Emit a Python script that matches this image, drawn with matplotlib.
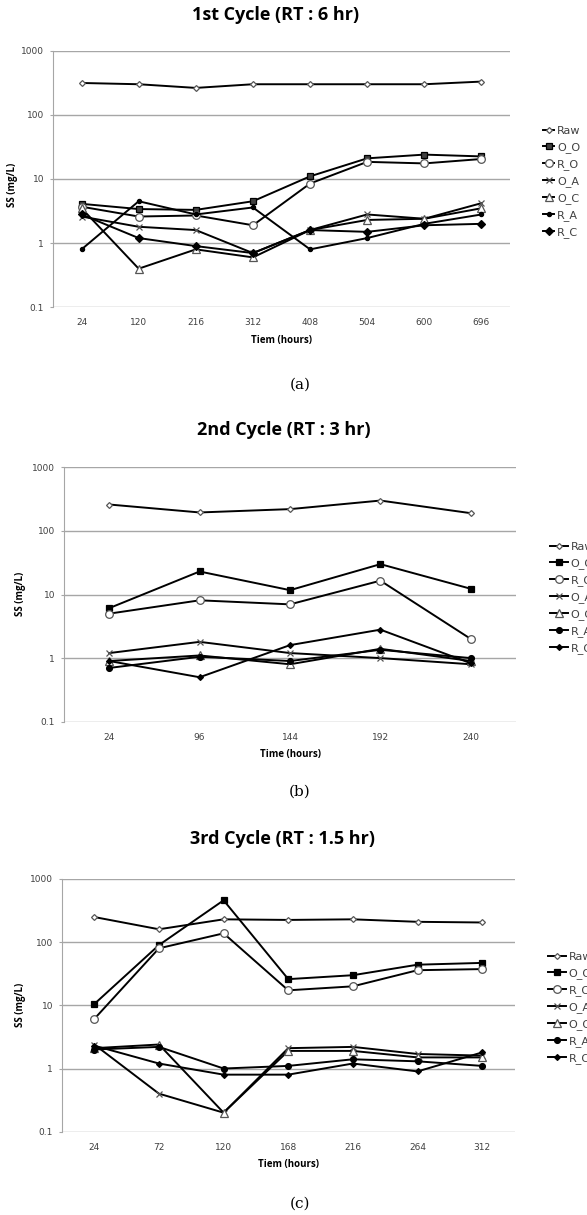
import matplotlib
matplotlib.use("Agg")
import matplotlib.pyplot as plt

W, H = 587, 1215

# ---- data ----
series_names = ["Raw", "O_O", "R_O", "O_A", "O_C", "R_A", "R_C"]

time1 = ["24", "120", "216", "312", "408", "504", "600", "696"]
raw1 = [314, 300, 263, 300, 300, 300, 300, 330]
oo1 = [4.1, 3.4, 3.3, 4.5, 11, 21, 24, 22.5]
ro1 = [3.7, 2.6, 2.7, 1.9, 8.5, 18.5, 17.5, 20.5]
oa1 = [2.6, 1.8, 1.6, 0.7, 1.6, 2.8, 2.4, 4.2]
oc1 = [3.5, 0.4, 0.8, 0.6, 1.6, 2.3, 2.4, 3.5]
ra1 = [0.8, 4.5, 2.8, 3.6, 0.8, 1.2, 2.0, 2.8]
rc1 = [2.8, 1.2, 0.9, 0.7, 1.6, 1.5, 1.9, 2.0]

time2 = ["24", "96", "144", "192", "240"]
raw2 = [260, 195, 220, 300, 190]
oo2 = [6.1, 23, 11.7, 30, 12.3]
ro2 = [5.0, 8.1, 7.0, 16.5, 2.0]
oa2 = [1.2, 1.8, 1.2, 1.0, 0.8]
oc2 = [0.9, 1.1, 0.8, 1.4, 0.9]
ra2 = [0.7, 1.05, 0.9, 1.35, 1.0]
rc2 = [0.9, 0.5, 1.6, 2.8, 0.83]

time3 = ["24", "72", "120", "168", "216", "264", "312"]
raw3 = [250, 160, 230, 225, 230, 210, 205]
oo3 = [10.5, 90, 460, 26, 30, 44, 47]
ro3 = [6.1, 80, 138, 17.3, 20, 36, 37.5]
oa3 = [2.4, 0.4, 0.2, 2.1, 2.2, 1.7, 1.6]
oc3 = [2.1, 2.4, 0.2, 1.9, 1.9, 1.5, 1.5]
ra3 = [2.0, 2.2, 1.0, 1.1, 1.4, 1.3, 1.1]
rc3 = [2.3, 1.2, 0.8, 0.8, 1.2, 0.9, 1.8]

titles = ["1st Cycle (RT : 6 hr)", "2nd Cycle (RT : 3 hr)", "3rd Cycle (RT : 1.5 hr)"]
xlabels = ["Tiem (hours)", "Time (hours)", "Tiem (hours)"]
captions = ["(a)", "(b)", "(c)"]

# marker styles: (marker, size, face)
styles1 = [("D", 3, "white"), ("s", 4.5, "#404040"), ("o", 5.5, "white"), ("x", 5, "none"),
           ("^", 6, "white"), ("o", 3, "black"), ("D", 3.8, "black")]
styles23 = [("D", 3, "white"), ("s", 4.5, "black"), ("o", 5.5, "white"), ("x", 5, "none"),
            ("^", 5.5, "white"), ("o", 4.2, "black"), ("D", 3, "black")]


def fx(x):
    return x / W


def fy(y):
    return 1 - y / H


def rect(left, right, top, bottom):
    return [left / W, 1 - bottom / H, (right - left) / W, (bottom - top) / H]


fig = plt.figure(figsize=(W / 100, H / 100), dpi=100)

# layout in pixels: axes (l, r, top, bottom), title y, xlabel y, caption y,
# ylabel x, ylabel y, legend x, legend center y, handle length
panels = [
    dict(times=time1, vals=[raw1, oo1, ro1, oa1, oc1, ra1, rc1], styles=styles1,
         box=(53, 510, 50.7, 307.3), ty=15, xly=340, cy=385, ylx=12, yly=185,
         lgx=543, lgy=182, hl=1.0),
    dict(times=time2, vals=[raw2, oo2, ro2, oa2, oc2, ra2, rc2], styles=styles23,
         box=(64, 516, 467.3, 721.7), ty=430, xly=754, cy=792, ylx=21, yly=594,
         lgx=550, lgy=598, hl=1.6),
    dict(times=time3, vals=[raw3, oo3, ro3, oa3, oc3, ra3, rc3], styles=styles23,
         box=(62, 514.5, 879, 1131.7), ty=839, xly=1164, cy=1204, ylx=20.6, yly=1005,
         lgx=548, lgy=1008, hl=1.6),
]

tick_color = "#404040"
grid_color = "#a6a6a6"

for i, p in enumerate(panels):
    l, r, t, b = p["box"]
    ax = fig.add_axes(rect(l, r, t, b))
    for name, vals, (mk, ms, fc) in zip(series_names, p["vals"], p["styles"]):
        ec = "#555555" if fc in ("white", "none") else "black"
        ax.plot(p["times"], vals, color="black", lw=1.4, marker=mk, markersize=ms,
                markerfacecolor=fc, markeredgecolor=ec, markeredgewidth=0.9,
                label=name)
    ax.set_yscale("log")
    ax.set_ylim(0.1, 1000)
    ax.set_xlim(-0.5, len(p["times"]) - 0.5)
    ax.set_yticks([0.1, 1, 10, 100, 1000])
    ax.set_yticklabels(["0.1", "1", "10", "100", "1000"])
    ax.minorticks_off()
    ax.yaxis.grid(True, color=grid_color, lw=1)
    ax.set_axisbelow(True)
    for s in ["top", "right", "bottom"]:
        ax.spines[s].set_visible(False)
    ax.spines["left"].set_color(grid_color)
    ax.tick_params(axis="y", length=2.5, color=grid_color, labelsize=6.5,
                   labelcolor=tick_color, pad=4)
    ax.tick_params(axis="x", length=0, labelsize=6.5, labelcolor=tick_color, pad=8)

    cx = fx((l + r) / 2)
    fig.text(cx - 0.01, fy(p["ty"]), titles[i], ha="center", va="center",
             fontsize=13, fontweight="bold", family="Open Sans")
    fig.text(cx, fy(p["xly"]), xlabels[i], ha="center", va="center",
             fontsize=7, fontweight="bold", family="Open Sans")
    fig.text(fx(p["ylx"]), fy(p["yly"]), "SS (mg/L)", rotation=90, ha="center",
             va="center", fontsize=7, fontweight="bold", family="Open Sans")
    fig.text(fx(300), fy(p["cy"]), captions[i], ha="center", va="center",
             fontsize=11, family="DejaVu Serif")

    leg = ax.legend(loc="center left", bbox_to_anchor=(fx(p["lgx"]), fy(p["lgy"])),
                    bbox_transform=fig.transFigure, frameon=False, fontsize=8,
                    handlelength=p["hl"], handletextpad=0.25, labelspacing=0.55,
                    borderpad=0, borderaxespad=0)
    for txt in leg.get_texts():
        txt.set_color(tick_color)

fig.savefig("out.png", dpi=100)
